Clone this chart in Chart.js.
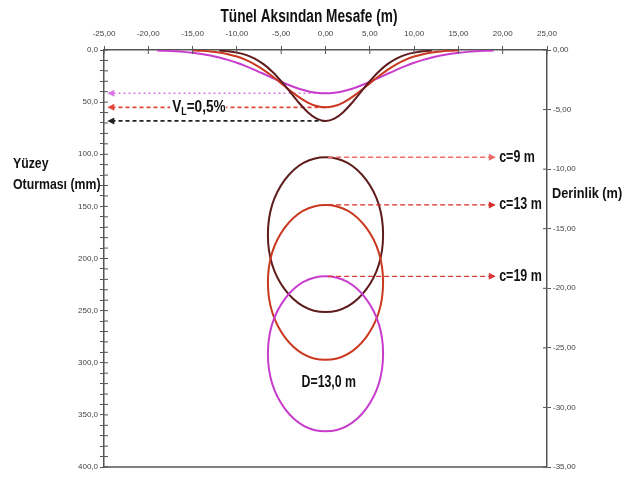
<!DOCTYPE html>
<html>
<head>
<meta charset="utf-8">
<script src="https://cdn.jsdelivr.net/npm/chart.js@4"></script>
<style>
  html, body { margin: 0; padding: 0; background: #fff; }
  #wrap { width: 634px; height: 478px; position: relative; }
</style>
</head>
<body>
<div id="wrap"><canvas id="chart"></canvas></div>
<script>
// distance from tunnel axis (m)
const distances = [-19, -18, -17, -16, -15, -14, -13, -12, -11, -10, -9, -8, -7, -6, -5, -4, -3, -2, -1, 0,
                   1, 2, 3, 4, 5, 6, 7, 8, 9, 10, 11, 12, 13, 14, 15, 16, 17, 18, 19];
// surface settlement (mm) for c = 9, 13, 19 m
const settleC9 = [null, null, null, null, null, null, null, 0.6, 1.3, 2.5, 4.7, 8.3, 13.6, 20.8, 29.9, 40.2, 50.6, 59.6, 65.8, 68,
                  65.8, 59.6, 50.6, 40.2, 29.9, 20.8, 13.6, 8.3, 4.7, 2.5, 1.3, 0.6, null, null, null, null, null, null, null];
const settleC13 = [null, null, null, null, 0.4, 0.8, 1.4, 2.4, 4.0, 6.3, 9.5, 13.7, 19.0, 25.2, 32.0, 38.9, 45.2, 50.4, 53.8, 55,
                   53.8, 50.4, 45.2, 38.9, 32.0, 25.2, 19.0, 13.7, 9.5, 6.3, 4.0, 2.4, 1.4, 0.8, 0.4, null, null, null, null];
const settleC19 = [0.5, 0.8, 1.2, 1.8, 2.7, 3.8, 5.3, 7.2, 9.5, 12.2, 15.4, 19.0, 22.8, 26.7, 30.6, 34.1, 37.2, 39.5, 41.0, 41.5,
                   41.0, 39.5, 37.2, 34.1, 30.6, 26.7, 22.8, 19.0, 15.4, 12.2, 9.5, 7.2, 5.3, 3.8, 2.7, 1.8, 1.2, 0.8, 0.5];

// tunnels
const tunnelCovers = [9, 13, 19];          // c (m)
const tunnelDiameter = 13;                 // D (m)
const maxSettlements = [68, 55, 41.5];     // mm, arrows on the left
const coverLabels = ['c=9 m', 'c=13 m', 'c=19 m'];

const seriesColors = ['#5e1c1c', '#c9381f', '#c83ccc'];
const arrowColors = ['#222222', '#e2483a', '#d877e2'];
const coverArrowColors = ['#e86a6a', '#d42e2e', '#d63a3a'];

const FONT = "'Liberation Sans', Arial, sans-serif";

function fmt(v, d) {
    return v.toFixed(d).replace('.', ',');
}

function toPoints(values) {
    return distances.map((x, i) => ({ x: x, y: values[i] }));
}

// draw text squeezed horizontally (condensed look)
function narrowText(ctx, text, x, y, size, sx, align) {
    ctx.save();
    ctx.font = 'bold ' + size + 'px ' + FONT;
    ctx.textAlign = align || 'left';
    ctx.textBaseline = 'middle';
    ctx.translate(x, y);
    ctx.scale(sx, 1);
    ctx.fillText(text, 0, 0);
    const w = ctx.measureText(text).width * sx;
    ctx.restore();
    return w;
}

const datasets = [];
[settleC9, settleC13, settleC19].forEach((vals, i) => {
    datasets.push({
        data: toPoints(vals),
        borderColor: seriesColors[i],
        borderWidth: 2,
        pointRadius: 0,
        tension: 0.3,
        spanGaps: false,
        yAxisID: 'y'
    });
});
// settlement arrows (to left axis)
maxSettlements.forEach((s, i) => {
    datasets.push({
        data: [{ x: 0, y: s }, { x: -24.4, y: s }],
        borderColor: arrowColors[i],
        borderWidth: 1.6,
        borderDash: i === 2 ? [2, 3] : [4, 3],
        pointRadius: 0,
        arrow: true,
        yAxisID: 'y'
    });
});
// cover arrows (to right labels)
tunnelCovers.forEach((c, i) => {
    datasets.push({
        data: [{ x: 0.3, y: -c }, { x: 19, y: -c }],
        borderColor: coverArrowColors[i],
        borderWidth: 1.4,
        borderDash: [5, 3],
        pointRadius: 0,
        arrow: true,
        yAxisID: 'y2'
    });
});

const tunnelPlugin = {
    id: 'tunnels',
    beforeDatasetsDraw(chart) {
        const ctx = chart.ctx;
        const xs = chart.scales.x;
        const ys = chart.scales.y2;
        ctx.save();
        tunnelCovers.forEach((c, i) => {
            const cx = xs.getPixelForValue(0);
            const top = ys.getPixelForValue(-c);
            const bottom = ys.getPixelForValue(-c - tunnelDiameter);
            const rx = xs.getPixelForValue(tunnelDiameter / 2) - cx;
            ctx.beginPath();
            ctx.ellipse(cx, (top + bottom) / 2, rx, (bottom - top) / 2, 0, 0, Math.PI * 2);
            ctx.strokeStyle = seriesColors[i];
            ctx.lineWidth = 2;
            ctx.stroke();
        });
        ctx.restore();
    }
};

const arrowPlugin = {
    id: 'arrows',
    afterDatasetsDraw(chart) {
        const ctx = chart.ctx;
        chart.data.datasets.forEach((ds, i) => {
            if (!ds.arrow) return;
            const pts = chart.getDatasetMeta(i).data;
            const a = pts[pts.length - 2], b = pts[pts.length - 1];
            const ang = Math.atan2(b.y - a.y, b.x - a.x);
            ctx.save();
            ctx.translate(b.x, b.y);
            ctx.rotate(ang);
            ctx.beginPath();
            ctx.moveTo(2, 0);
            ctx.lineTo(-5, -3.5);
            ctx.lineTo(-5, 3.5);
            ctx.closePath();
            ctx.fillStyle = ds.borderColor;
            ctx.fill();
            ctx.restore();
        });
    }
};

const framePlugin = {
    id: 'frame',
    afterDraw(chart) {
        const ctx = chart.ctx;
        const area = chart.chartArea;
        const { x, y, y2 } = chart.scales;
        ctx.save();
        ctx.strokeStyle = '#555';
        ctx.lineWidth = 1.5;
        ctx.beginPath();
        ctx.moveTo(area.left, area.bottom);
        ctx.lineTo(area.right, area.bottom);
        ctx.stroke();
        // inner halves of the tick marks
        ctx.lineWidth = 1;
        ctx.beginPath();
        x.ticks.forEach(t => {
            const px = x.getPixelForValue(t.value);
            ctx.moveTo(px, area.top);
            ctx.lineTo(px, area.top + 4);
        });
        y.ticks.forEach(t => {
            const py = y.getPixelForValue(t.value);
            ctx.moveTo(area.left, py);
            ctx.lineTo(area.left + 4, py);
        });
        y2.ticks.forEach(t => {
            const py = y2.getPixelForValue(t.value);
            ctx.moveTo(area.right, py);
            ctx.lineTo(area.right - 4, py);
        });
        ctx.stroke();

        ctx.fillStyle = '#111';
        // axis titles
        narrowText(ctx, 'Tünel Aksından Mesafe (m)', 309, 17, 18, 0.76, 'center');
        narrowText(ctx, 'Yüzey', 13, 164, 15, 0.82);
        narrowText(ctx, 'Oturması (mm)', 13, 185, 15, 0.82);
        narrowText(ctx, 'Derinlik (m)', 552, 194, 15, 0.85);

        // V_L label
        const vx = x.getPixelForValue(-17.3);
        const vy = y.getPixelForValue(maxSettlements[1]);
        ctx.fillStyle = '#fff';
        ctx.fillRect(vx - 2, vy - 9, 56, 20);
        ctx.fillStyle = '#111';
        let w = narrowText(ctx, 'V', vx, vy, 17, 0.8);
        w += narrowText(ctx, 'L', vx + w, vy + 5, 11, 0.8);
        narrowText(ctx, '=0,5%', vx + w, vy, 17, 0.8);

        // cover labels
        tunnelCovers.forEach((c, i) => {
            narrowText(ctx, coverLabels[i], x.getPixelForValue(19.6), y2.getPixelForValue(-c), 16, 0.78);
        });
        narrowText(ctx, 'D=' + fmt(tunnelDiameter, 1) + ' m', x.getPixelForValue(-2.7), y2.getPixelForValue(-27.9), 16, 0.77);
        ctx.restore();
    }
};

const tickFont = { family: FONT, size: 8 };

new Chart(document.getElementById('chart'), {
    type: 'line',
    data: { datasets: datasets },
    options: {
        responsive: true,
        maintainAspectRatio: false,
        animation: false,
        layout: { padding: { left: 0, right: 0, top: 0, bottom: 11 } },
        plugins: {
            legend: { display: false },
            tooltip: { enabled: false }
        },
        scales: {
            x: {
                type: 'linear',
                position: 'top',
                min: -25,
                max: 25,
                ticks: {
                    stepSize: 5,
                    autoSkip: false,
                    maxRotation: 0,
                    padding: 7,
                    color: '#444',
                    font: tickFont,
                    callback: v => fmt(v, 2)
                },
                grid: { drawOnChartArea: false, tickLength: 4, color: '#555' },
                border: { color: '#555', width: 1.5 },
                afterFit: s => { s.height = 50; }
            },
            y: {
                type: 'linear',
                position: 'left',
                min: 0,
                max: 400,
                reverse: true,
                ticks: {
                    stepSize: 10,
                    autoSkip: false,
                    padding: 2,
                    color: '#444',
                    font: tickFont,
                    callback: v => (v % 50 === 0 ? fmt(v, 1) : '')
                },
                grid: { drawOnChartArea: false, tickLength: 4, color: '#555' },
                border: { color: '#555', width: 1.5 },
                afterFit: s => { s.width = 104; }
            },
            y2: {
                type: 'linear',
                position: 'right',
                min: -35,
                max: 0,
                ticks: {
                    stepSize: 5,
                    autoSkip: false,
                    padding: 2,
                    color: '#444',
                    font: tickFont,
                    callback: v => fmt(v, 2)
                },
                grid: { drawOnChartArea: false, tickLength: 4, color: '#555' },
                border: { color: '#555', width: 1.5 },
                afterFit: s => { s.width = 87; }
            }
        }
    },
    plugins: [tunnelPlugin, arrowPlugin, framePlugin]
});
</script>
</body>
</html>
